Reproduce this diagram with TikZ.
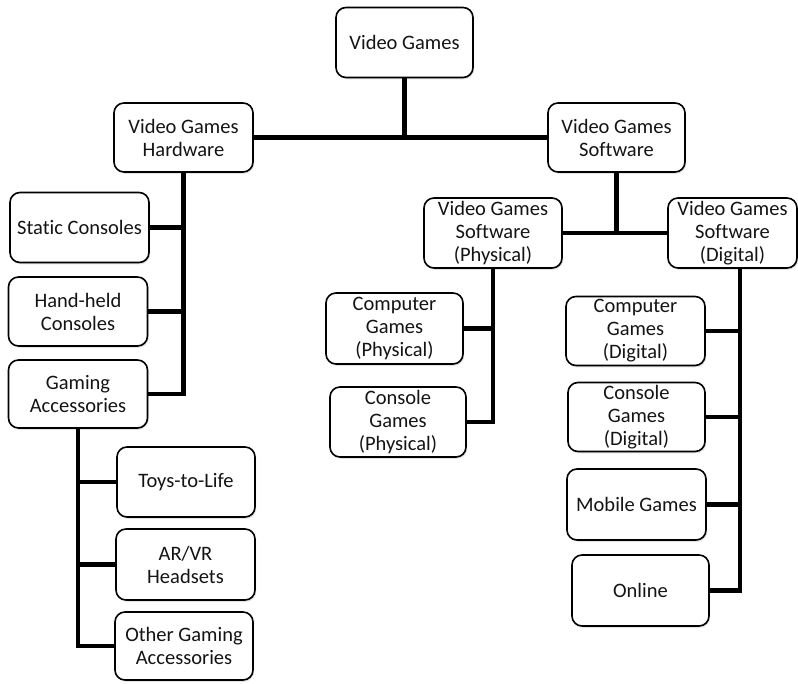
\documentclass[tikz,border=0pt]{standalone}
\usepackage{fontspec}
\setmainfont[Ligatures=NoCommon]{Carlito}
\usetikzlibrary{shadows}
\begin{document}
\begin{tikzpicture}[x=1pt,y=-1pt,
  box/.style={draw=black, line width=1.6pt, rounded corners=10pt, fill=white,
    align=center, inner sep=1pt, text=black!92,
    font=\fontsize{20.5}{23}\selectfont,
    drop shadow={opacity=0.22, shadow xshift=1.2pt, shadow yshift=-1.8pt}},
  link/.style={line width=4.8pt, draw=black}]
\useasboundingbox (0,0) rectangle (798,684);
\fill[white] (0,0) rectangle (798,684);
% nodes
\node[box, minimum width=137pt, minimum height=70pt] (vg) at (404.5,42.5) {Video Games};
\node[box, minimum width=139pt, minimum height=69pt] (hw) at (183.5,137.5) {Video Games\\Hardware};
\node[box, minimum width=137pt, minimum height=69pt] (sw) at (616.5,137.5) {Video Games\\Software};
\node[box, minimum width=139pt, minimum height=70pt] (sc) at (79.5,227.5) {Static Consoles};
\node[box, minimum width=139pt, minimum height=69pt] (hh) at (78,311.5) {Hand-held\\Consoles};
\node[box, minimum width=139pt, minimum height=68pt] (ga) at (78,394) {Gaming\\Accessories};
\node[box, minimum width=138pt, minimum height=70pt] (tl) at (186,482) {Toys-to-Life};
\node[box, minimum width=139pt, minimum height=71pt] (ar) at (185.5,564.5) {AR/VR\\Headsets};
\node[box, minimum width=138pt, minimum height=68pt] (og) at (184,646) {Other Gaming\\Accessories};
\node[box, minimum width=138pt, minimum height=70pt] (php) at (493,233) {Video Games\\Software\\(Physical)};
\node[box, minimum width=129pt, minimum height=70pt] (dig) at (732.5,233) {Video Games\\Software\\(Digital)};
\node[box, minimum width=137pt, minimum height=71pt] (cgp) at (394.5,328.5) {Computer\\Games\\(Physical)};
\node[box, minimum width=136pt, minimum height=70pt] (cop) at (398,422) {Console\\Games\\(Physical)};
\node[box, minimum width=139pt, minimum height=69pt] (cgd) at (635.5,331) {Computer\\Games\\(Digital)};
\node[box, minimum width=137pt, minimum height=69pt] (cod) at (636.5,417) {Console\\Games\\(Digital)};
\node[box, minimum width=139pt, minimum height=71pt] (mob) at (636.5,504.5) {Mobile Games};
\node[box, minimum width=137pt, minimum height=71pt] (onl) at (640.5,590.5) {Online};
\coordinate (dv) at (740,268);
% connectors
\draw[link] (vg.south) -- (vg.south |- hw.east);
\draw[link] (hw.east) -- (sw.west);
\draw[link] (hw.south) -- (hw.south |- ga.east) -- (ga.east);
\draw[link] (sc.east) -- (sc.east -| hw.south);
\draw[link] (hh.east) -- (hh.east -| hw.south);
\draw[link] (ga.south) -- (ga.south |- og.west) -- (og.west);
\draw[link] (tl.west) -- (tl.west -| ga.south);
\draw[link] (ar.west) -- (ar.west -| ga.south);
\draw[link] (sw.south) -- (sw.south |- php.east);
\draw[link] (php.east) -- (dig.west);
\draw[link] (php.south) -- (php.south |- cop.east) -- (cop.east);
\draw[link] (cgp.east) -- (cgp.east -| php.south);
\draw[link] (dv) -- (dv |- onl.east) -- (onl.east);
\draw[link] (cgd.east) -- (cgd.east -| dv);
\draw[link] (cod.east) -- (cod.east -| dv);
\draw[link] (mob.east) -- (mob.east -| dv);
\end{tikzpicture}
\end{document}
